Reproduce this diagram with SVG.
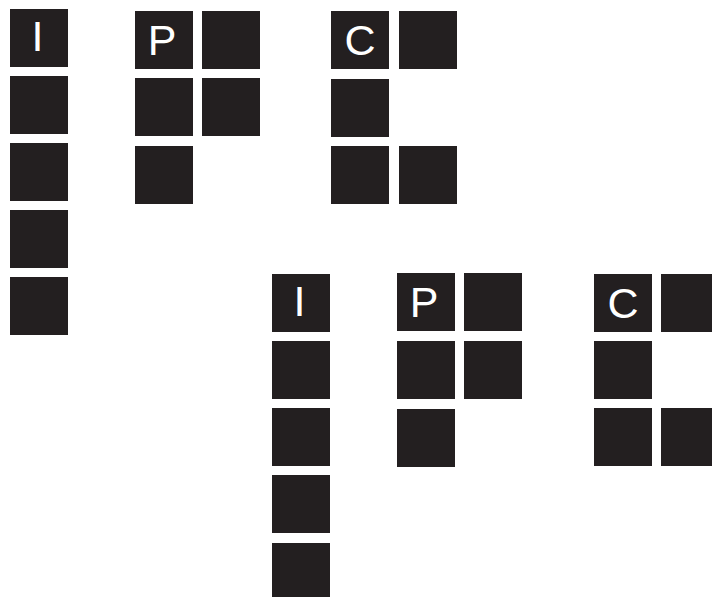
<svg xmlns="http://www.w3.org/2000/svg" width="712" height="597" viewBox="0 0 712 597">
<style>
rect{fill:#231f20}
text{fill:#fff;font-family:"Liberation Sans",Arial,sans-serif;font-size:43px;text-anchor:middle}
</style>
<rect x="0" y="0" width="712" height="597" style="fill:#fff"/>
<g id="I1">
<rect x="10" y="9" width="58" height="58"/>
<rect x="10" y="76" width="58" height="58"/>
<rect x="10" y="143" width="58" height="58"/>
<rect x="10" y="210" width="58" height="58"/>
<rect x="10" y="277" width="58" height="58"/>
<text x="37.5" y="51">I</text>
</g>
<g id="P1">
<rect x="135" y="11" width="58" height="58"/>
<rect x="202" y="11" width="58" height="58"/>
<rect x="135" y="78" width="58" height="58"/>
<rect x="202" y="78" width="58" height="58"/>
<rect x="135" y="146" width="58" height="58"/>
<text x="162" y="55">P</text>
</g>
<g id="C1">
<rect x="331" y="11" width="58" height="58"/>
<rect x="399" y="11" width="58" height="58"/>
<rect x="331" y="79" width="58" height="58"/>
<rect x="331" y="146" width="58" height="58"/>
<rect x="399" y="146" width="58" height="58"/>
<text x="360" y="55">C</text>
</g>
<g id="I2">
<rect x="272" y="274" width="58" height="58"/>
<rect x="272" y="341" width="58" height="58"/>
<rect x="272" y="408" width="58" height="58"/>
<rect x="272" y="475" width="58" height="58"/>
<rect x="272" y="543" width="58" height="58"/>
<text x="299.5" y="316">I</text>
</g>
<g id="P2">
<rect x="397" y="273" width="58" height="58"/>
<rect x="464" y="273" width="58" height="58"/>
<rect x="397" y="341" width="58" height="58"/>
<rect x="464" y="341" width="58" height="58"/>
<rect x="397" y="409" width="58" height="58"/>
<text x="424" y="317">P</text>
</g>
<g id="C2">
<rect x="594" y="274" width="58" height="58"/>
<rect x="661" y="274" width="58" height="58"/>
<rect x="594" y="341" width="58" height="58"/>
<rect x="594" y="408" width="58" height="58"/>
<rect x="661" y="408" width="58" height="58"/>
<text x="623" y="318">C</text>
</g>
<g id="connectors"></g>
</svg>
